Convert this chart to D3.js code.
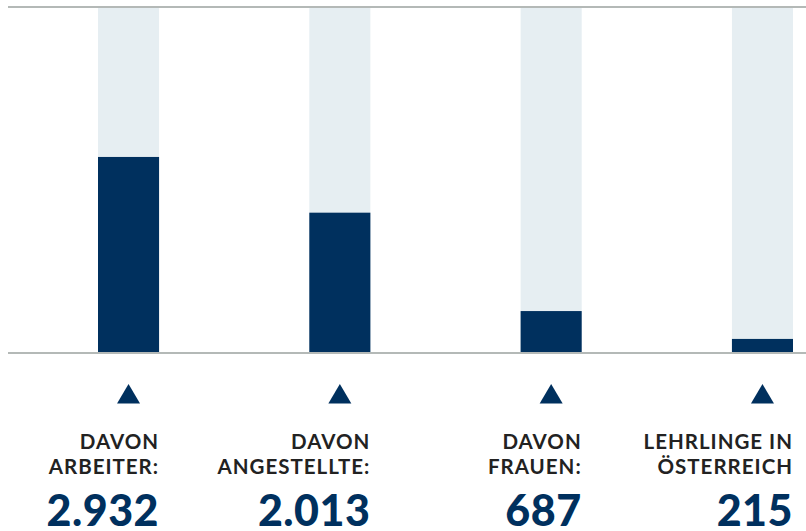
<!DOCTYPE html>
<html>
<head>
<meta charset="utf-8">
<script src="https://cdn.jsdelivr.net/npm/d3@7"></script>
<style>
  html, body { margin: 0; padding: 0; background: #fff; }
  svg { display: block; }
  .label { font-family: Lato, "Open Sans", sans-serif; font-weight: 700; font-size: 20.5px; letter-spacing: 1px; fill: #222; }
  .value { font-family: Lato, "Open Sans", sans-serif; font-weight: 900; font-size: 43px; letter-spacing: 0.5px; fill: #00305e; }
</style>
</head>
<body>
<svg class="chart" width="806" height="531"></svg>
<script>
// categories / labels as shown under each column
let categories = ['arbeiter', 'angestellte', 'frauen', 'lehrlinge'];
let labelLines = [
  ['DAVON', 'ARBEITER:'],
  ['DAVON', 'ANGESTELLTE:'],
  ['DAVON', 'FRAUEN:'],
  ['LEHRLINGE IN', 'ÖSTERREICH']
];
let valueLabels = ['2.932', '2.013', '687', '215'];
// filled share of each column in percent
let shares = [56.7, 40.5, 11.9, 3.8];

let navy = '#00305e';

let SVG = d3.select('svg.chart');

let x = d3.scaleBand()
  .domain(categories)
  .range([98, 793])
  .paddingInner(0.711)
  .paddingOuter(0);

let y = d3.scaleLinear()
  .domain([0, 100])
  .range([352, 8]);

// background columns
SVG.append('g')
  .attr('class', 'columns')
  .selectAll('rect')
  .data(categories)
  .enter()
  .append('rect')
  .attr('x', d => x(d))
  .attr('y', y(100))
  .attr('width', x.bandwidth())
  .attr('height', y(0) - y(100))
  .style('fill', '#e6eef2');

// filled bars
SVG.append('g')
  .attr('class', 'bars')
  .selectAll('rect')
  .data(shares)
  .enter()
  .append('rect')
  .attr('x', (d, i) => x(categories[i]))
  .attr('y', d => y(d))
  .attr('width', x.bandwidth())
  .attr('height', d => y(0) - y(d))
  .style('fill', navy);

// top and bottom rules
SVG.append('line')
  .attr('x1', 8).attr('x2', 806)
  .attr('y1', y(100) - 1).attr('y2', y(100) - 1)
  .style('stroke', '#b4b9b7')
  .style('stroke-width', 2);

SVG.append('line')
  .attr('x1', 8).attr('x2', 806)
  .attr('y1', y(0) + 1).attr('y2', y(0) + 1)
  .style('stroke', '#b4b9b7')
  .style('stroke-width', 2);

// triangles + labels
let foot = SVG.append('g')
  .attr('class', 'footer')
  .selectAll('g')
  .data(categories)
  .enter()
  .append('g');

foot.append('path')
  .attr('d', d => {
    let cx = x(d) + x.bandwidth() / 2;
    return `M${cx - 11.5},403.5 L${cx},384 L${cx + 11.5},403.5 Z`;
  })
  .style('fill', navy);

foot.each(function(d, i) {
  let g = d3.select(this);
  let right = x(d) + x.bandwidth();
  labelLines[i].forEach((line, j) => {
    g.append('text')
      .attr('class', 'label')
      .attr('x', right)
      .attr('y', 448.5 + j * 25.5)
      .attr('text-anchor', 'end')
      .text(line);
  });
  g.append('text')
    .attr('class', 'value')
    .attr('x', right)
    .attr('y', 526)
    .attr('text-anchor', 'end')
    .text(valueLabels[i]);
});
</script>
</body>
</html>
